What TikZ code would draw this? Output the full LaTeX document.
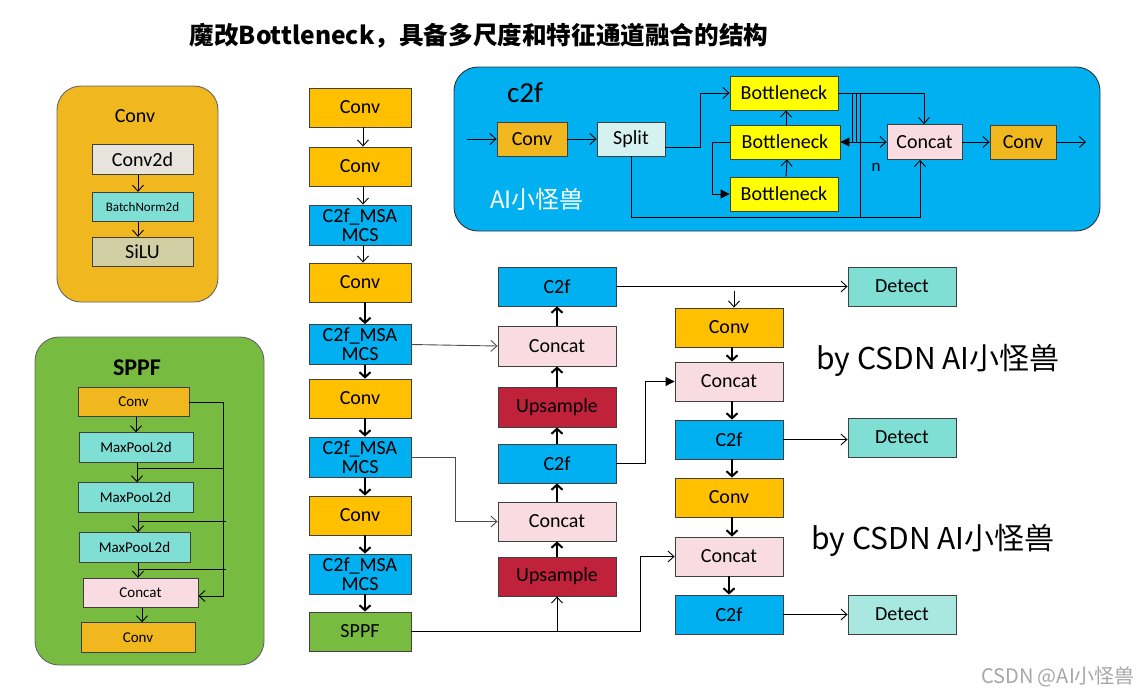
\documentclass[tikz,border=0pt]{standalone}
\usepackage{fontspec}
\setmainfont{Carlito}
\newfontfamily\cjk{Noto Sans CJK SC}
\usetikzlibrary{arrows.meta}
\definecolor{gold}{HTML}{F0B81E}
\definecolor{convc}{HTML}{FFC000}
\definecolor{blu}{HTML}{00B0F0}
\definecolor{grn}{HTML}{77BC41}
\definecolor{teal1}{HTML}{7FDFD4}
\definecolor{teal2}{HTML}{A9E8E0}
\definecolor{pink}{HTML}{F9DCE2}
\definecolor{upc}{HTML}{C0223B}
\definecolor{c2dc}{HTML}{E7E3DD}
\definecolor{siluc}{HTML}{D3CFA4}
\definecolor{splitc}{HTML}{D5F2F1}
\definecolor{yel}{HTML}{FFFF00}
\begin{document}
\begin{tikzpicture}[x=1pt,y=-1pt,
  box/.style={draw=black!75, line width=0.9pt, inner sep=0pt, align=center, font=\fontsize{20}{19}\selectfont},
  mbox/.style={box, minimum width=102pt, minimum height=39pt},
  nbox/.style={box, minimum width=118pt, minimum height=39pt},
  n2box/.style={box, minimum width=108pt, minimum height=39pt},
  detbox/.style={box, fill=teal1, minimum width=108pt, minimum height=39pt},
  sbox/.style={box, font=\fontsize{15}{15}\selectfont, minimum height=29.5pt},
  cbox/.style={box, minimum height=34pt},
  panel/.style={draw=black!60, line width=0.9pt, rounded corners=24pt, inner sep=0pt},
  ln/.style={line width=0.9pt},
  oa/.style={ln, -{Straight Barb[length=6pt,width=11pt]}},
  fa/.style={ln, -{Triangle[length=9pt,width=9pt]}},
  ta/.style={line width=2pt, -{Straight Barb[length=5pt,width=11pt]}},
]
\useasboundingbox (0,0) rectangle (1142,697);

% title
\node[font=\cjk\bfseries\fontsize{24.6}{24.6}\selectfont] (title) at (479,36) {魔改Bottleneck，具备多尺度和特征通道融合的结构};

% ---------- Conv panel ----------
\node[panel, fill=gold, minimum width=161pt, minimum height=216pt] (convpanel) at (137.5,194) {};
\node[font=\fontsize{20}{20}\selectfont] (convtitle) at (135,116) {Conv};
\node[sbox, fill=c2dc, minimum width=101pt, font=\fontsize{20}{20}\selectfont] (c2d) at (142.5,159.5) {Conv2d};
\node[sbox, fill=teal1, minimum width=101pt, font=\fontsize{13}{13}\selectfont] (bn) at (142.5,207) {BatchNorm2d};
\node[sbox, fill=siluc, minimum width=101pt, font=\fontsize{20}{20}\selectfont] (silu) at (142.5,252) {SiLU};
\draw[oa] ([xshift=-4.5pt]c2d.south) -- ([xshift=-4.5pt]c2d.south |- bn.north);
\draw[oa] ([xshift=-4.5pt]bn.south) -- ([xshift=-4.5pt]bn.south |- silu.north);

% ---------- SPPF panel ----------
\node[panel, fill=grn, minimum width=229pt, minimum height=328pt] (sppfpanel) at (149.5,501) {};
\node[font=\bfseries\fontsize{24}{24}\selectfont] (sppftitle) at (137,368) {SPPF};
\node[sbox, fill=gold, minimum width=111pt] (sc) at (133.5,402) {Conv};
\node[sbox, fill=teal1, minimum width=114pt] (mp1) at (136,447.5) {MaxPooL2d};
\node[sbox, fill=teal1, minimum width=115pt] (mp2) at (135.5,497.5) {MaxPooL2d};
\node[sbox, fill=teal1, minimum width=111pt] (mp3) at (134.5,547.5) {MaxPooL2d};
\node[sbox, fill=pink, minimum width=115pt] (scat) at (140.5,593) {Concat};
\node[sbox, fill=gold, minimum width=114pt] (sc2) at (138,637.5) {Conv};
\coordinate (sv) at (223,0);
\coordinate (se) at (226,0);
\draw[oa] ([xshift=2.5pt]sc.south) -- ([xshift=2.5pt]sc.south |- mp1.north);
\draw[oa] ([xshift=1pt]mp1.south) -- ([xshift=1pt]mp1.south |- mp2.north);
\draw[oa] ([xshift=2.5pt]mp2.south) -- ([xshift=2.5pt]mp2.south |- mp3.north);
\draw[oa] ([xshift=3.5pt]mp3.south) -- ([xshift=3.5pt]mp3.south |- scat.north);
\draw[oa] ([xshift=1.5pt]scat.south) -- ([xshift=1.5pt]scat.south |- sc2.north);
\draw[oa] (sc.east) -| ([yshift=-3pt]sv |- scat.east) -- ([yshift=-3pt]scat.east);
\coordinate (j1) at (137,468);
\coordinate (j2) at (138,521);
\coordinate (j3) at (138,569);
\draw[ln] (j1) -- (j1 -| sv);
\draw[ln] (j2) -- (j2 -| se);
\draw[ln] (j3) -- (j3 -| se);

% ---------- main column ----------
\node[mbox, fill=convc] (m1) at (360,107.5) {Conv};
\node[mbox, fill=convc] (m2) at (360,166.5) {Conv};
\node[mbox, fill=blu, minimum height=40pt] (m3) at (360,225) {C2f\_MSA\\MCS};
\node[mbox, fill=convc] (m4) at (360,282.5) {Conv};
\node[mbox, fill=blu, minimum height=40pt] (m5) at (360,344.5) {C2f\_MSA\\MCS};
\node[mbox, fill=convc] (m6) at (360,398.5) {Conv};
\node[mbox, fill=blu, minimum height=40pt] (m7) at (360,457) {C2f\_MSA\\MCS};
\node[mbox, fill=convc] (m8) at (360,515.5) {Conv};
\node[mbox, fill=blu, minimum height=40pt] (m9) at (360,574) {C2f\_MSA\\MCS};
\node[mbox, fill=grn] (m10) at (360,631.5) {SPPF};
\draw[oa] ([xshift=3pt]m1.south) -- ([xshift=3pt]m2.north);
\draw[oa] ([xshift=3pt]m2.south) -- ([xshift=3pt]m3.north);
\draw[oa] ([xshift=3pt]m3.south) -- ([xshift=3pt]m4.north);
\draw[ta] ([xshift=5pt]m4.south) -- ([xshift=5pt]m5.north);
\draw[ta] ([xshift=5pt]m5.south) -- ([xshift=5pt]m6.north);
\draw[ta] ([xshift=5pt]m6.south) -- ([xshift=5pt]m7.north);
\draw[ta] ([xshift=5pt]m7.south) -- ([xshift=5pt]m8.north);
\draw[ta] ([xshift=5pt]m8.south) -- ([xshift=5pt]m9.north);
\draw[ta] ([xshift=5pt]m9.south) -- ([xshift=5pt]m10.north);

% ---------- neck column 1 ----------
\node[nbox, fill=blu] (nc1) at (557,286.5) {C2f};
\node[nbox, fill=pink, minimum height=40pt] (ncat1) at (557,346) {Concat};
\node[nbox, fill=upc, minimum height=40pt] (nup1) at (557,407) {Upsample};
\node[nbox, fill=blu] (nc2) at (557,463.5) {C2f};
\node[nbox, fill=pink] (ncat2) at (557,521.5) {Concat};
\node[nbox, fill=upc] (nup2) at (557,576.5) {Upsample};
\draw[ta] (nup2.north) -- (ncat2.south);
\draw[ta] (ncat2.north) -- (nc2.south);
\draw[ta] (nc2.north) -- (nup1.south);
\draw[ta] (nup1.north) -- (ncat1.south);
\draw[ta] (ncat1.north) -- (nc1.south);

% ---------- neck column 2 ----------
\node[n2box, fill=convc] (p1) at (729,327.5) {Conv};
\node[n2box, fill=pink] (p2) at (729,381.5) {Concat};
\node[n2box, fill=blu] (p3) at (729,439.5) {C2f};
\node[n2box, fill=convc] (p4) at (729,497.5) {Conv};
\node[n2box, fill=pink] (p5) at (729,556.5) {Concat};
\node[n2box, fill=blu] (p6) at (729,614.5) {C2f};
\draw[ta] ([xshift=3pt]p1.south) -- ([xshift=3pt]p2.north);
\draw[ta] ([xshift=3pt]p2.south) -- ([xshift=3pt]p3.north);
\draw[ta] ([xshift=3pt]p3.south) -- ([xshift=3pt]p4.north);
\draw[ta] ([xshift=3pt]p4.south) -- ([xshift=3pt]p5.north);
\draw[ta] (p5.south) -- (p6.north);

% ---------- detect ----------
\node[detbox] (d1) at (902,286.5) {Detect};
\node[detbox] (d2) at (902,437.5) {Detect};
\node[detbox, fill=teal2] (d3) at (902,614.5) {Detect};

% ---------- neck connectors ----------
\draw[oa, black!70] (m5.east) -- (ncat1.west);
\draw[oa, black!70] (m7.east) -- ++(44,0) |- (ncat2.west);
\coordinate (sx) at (640,0);
\draw[oa] (m10.east) -- (m10.east -| sx) |- (p5.west);
\draw[oa] (nup2.south |- m10.east) -- (nup2.south);
\draw[fa] (nc2.east) -- ++(29,0) |- (p2.west);
\draw[oa] (nc1.east) -- (d1.west);
\coordinate (tp) at (734,291);
\draw[oa] (tp) -- (tp |- p1.north);
\draw[oa] (p3.east) -- (p3.east -| d2.west);
\draw[oa] (p6.east) -- (d3.west);

% ---------- by CSDN ----------
\node[font=\cjk\fontsize{30}{30}\selectfont] (by1) at (938,360) {by CSDN AI小怪兽};
\node[font=\cjk\fontsize{30}{30}\selectfont] (by2) at (933,540) {by CSDN AI小怪兽};

% ---------- c2f panel ----------
\node[panel, fill=blu, draw=black!80, minimum width=646pt, minimum height=164pt] (c2fpanel) at (777,149) {};
\node[font=\fontsize{29}{29}\selectfont] (c2ft) at (525,93) {c2f};
\node[font=\cjk\fontsize{24}{24}\selectfont, text=white] (ai) at (537,199) {AI小怪兽};
\node[cbox, fill=gold, minimum width=70pt] (cc1) at (532,139) {Conv};
\node[cbox, fill=splitc, minimum width=68pt] (spl) at (631,139) {Split};
\node[cbox, fill=yel, minimum width=108pt] (b1) at (784,93) {Bottleneck};
\node[cbox, fill=yel, minimum width=110pt] (b2) at (785,142) {Bottleneck};
\node[cbox, fill=yel, minimum width=108pt] (b3) at (784,194) {Bottleneck};
\node[cbox, fill=pink, minimum width=75pt, minimum height=35pt] (cct) at (924.5,142) {Concat};
\node[cbox, fill=gold, minimum width=66pt] (cc2) at (1023,142) {Conv};
\node[font=\fontsize{17}{17}\selectfont] (nlab) at (876,167) {n};
\coordinate (cin) at (467,139);
\coordinate (cout) at (1086,142);
\draw[oa] (cin) -- (cc1.west);
\draw[oa] (cc1.east) -- (spl.west);
\draw[oa] ([yshift=-8pt]spl.east) -- ++(35,0) |- (b1.west);
\draw[oa] ([xshift=2pt]b3.north) -- ([xshift=2pt]b2.south);
\draw[oa] ([xshift=1pt]b2.north) -- ([xshift=1pt]b2.north |- b1.south);
\draw[fa] (b2.west) -- ++(-17,0) |- (b3.west);
\coordinate (v1) at (852,0);
\coordinate (v2) at (856,0);
\coordinate (v3) at (860,0);
\coordinate (vc) at (920,0);
\draw[oa] (b1.east) -| ([xshift=-0.5pt]cct.north);
\draw[ln] (b1.east -| v1) -- (b2.east -| v1);
\draw[ln] (b1.east -| v2) -- (b2.east -| v2);
\draw[fa] (b2.east -| v2) -- (b2.east);
\draw[oa] (b2.east -| v1) -- (cct.west);
\draw[ln] (b1.east -| v3) -- ++(0,124);
\draw[oa] (spl.south) -- ++(0,61) -| (vc |- cct.south);
\draw[oa] (cct.east) -- (cc2.west);
\draw[oa] (cc2.east) -- (cout);

% watermark
\node[font=\cjk\fontsize{20}{20}\selectfont, text=black!35] (wm) at (1058,677) {CSDN @AI小怪兽};
\end{tikzpicture}
\end{document}
